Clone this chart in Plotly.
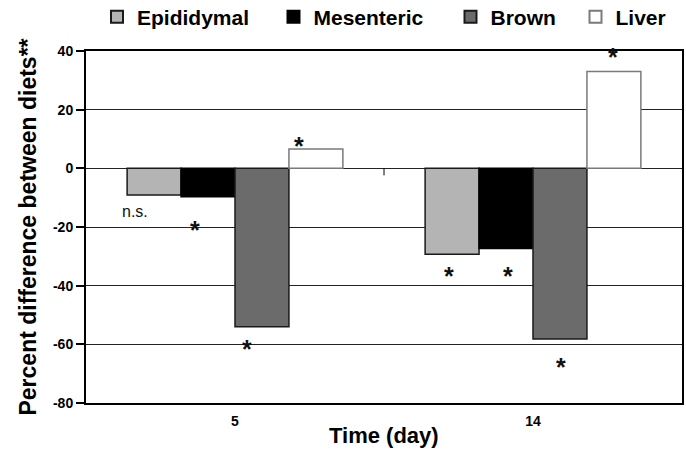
import plotly.graph_objects as go

# ---- data ----
days = ["5", "14"]
series_names = ["Epididymal", "Mesenteric", "Brown", "Liver"]
epididymal = [-9.1, -29.3]
mesenteric = [-9.7, -27.3]
brown = [-54.0, -58.2]
liver = [6.6, 33.0]
y_ticks = [-80, -60, -40, -20, 0, 20, 40]
y_tick_labels = ["-80", "-60", "-40", "-20", "0", "20", "40"]

# significance markers (x in category units, y in percent)
mark_text = ["n.s.", "*", "*", "*", "*", "*", "*", "*"]
mark_x = [-0.336, -0.134, 0.040, 0.215, 0.718, 0.916, 1.094, 1.268]
mark_y = [-14.8, -19.9, -60.7, 8.8, -35.8, -35.8, -66.8, 38.9]

# ---- styles ----
W, H = 686, 450
M_L, M_R, M_T, M_B = 86, 4, 51, 47
fills = ["#b4b4b4", "#000000", "#6b6b6b", "#ffffff"]
outlines = ["#1a1a1a", "#000000", "#1a1a1a", "#7a7a7a"]
legend_box_centers_px = [118, 294.5, 471.5, 596.5]
FONT = "Liberation Sans, Arial, sans-serif"

values = [epididymal, mesenteric, brown, liver]
x_pos = list(range(len(days)))
plot_h = H - M_T - M_B

fig = go.Figure()
legend_ids = ["legend", "legend2", "legend3", "legend4"]
for i, (name, vals) in enumerate(zip(series_names, values)):
    fig.add_trace(go.Bar(
        x=x_pos, y=vals, name=name,
        marker=dict(color=fills[i], line=dict(color=outlines[i], width=1.5)),
        legend=legend_ids[i],
    ))

for t, x, y in zip(mark_text, mark_x, mark_y):
    is_star = t == "*"
    fig.add_annotation(
        x=x, y=y, xref="x", yref="y", text=t, showarrow=False,
        font=dict(family=FONT, size=25 if is_star else 16, color="#111",
                  weight="bold" if is_star else "normal"),
        yshift=-3 if is_star else 0,
    )

# category boundary tick on the zero line
fig.add_shape(type="line", xref="x", yref="y",
              x0=(x_pos[0] + x_pos[1]) / 2, x1=(x_pos[0] + x_pos[1]) / 2,
              y0=0, y1=-2.4, line=dict(color="#000", width=1))

# x-axis title, placed at the bottom of the page
fig.add_annotation(
    text="Time (day)", xref="paper", yref="paper", x=0.5, y=-M_B / plot_h,
    xanchor="center", yanchor="bottom", showarrow=False,
    font=dict(family=FONT, size=22, weight="bold", color="#000"),
)

layout_legends = {}
for i, lid in enumerate(legend_ids):
    layout_legends[lid] = dict(
        x=(legend_box_centers_px[i] - 21) / W, xref="container", xanchor="left",
        y=1 - 17 / H, yref="container", yanchor="middle",
        orientation="h", bgcolor="rgba(0,0,0,0)", borderwidth=0,
        font=dict(family=FONT, size=21, color="#000", weight="bold"),
        itemsizing="constant",
    )

fig.update_layout(
    width=W, height=H,
    margin=dict(l=M_L, r=M_R, t=M_T, b=M_B, autoexpand=False),
    paper_bgcolor="white", plot_bgcolor="white",
    barmode="group", bargap=0.276, bargroupgap=0,
    showlegend=True,
    font=dict(family=FONT, color="#000"),
    **layout_legends,
)

fig.update_xaxes(
    range=[-0.5, 1.5], tickvals=x_pos, ticktext=days,
    showgrid=False, zeroline=False, automargin=False,
    showline=True, mirror=True, linecolor="#000", linewidth=2,
    ticks="", ticklabelstandoff=4,
    tickfont=dict(family=FONT, size=14, weight="bold"),
)
fig.update_yaxes(
    range=[-80, 40], tickvals=y_ticks, ticktext=y_tick_labels,
    showgrid=True, gridcolor="#222", gridwidth=1, zeroline=False, automargin=False,
    showline=True, mirror=True, linecolor="#000", linewidth=2,
    ticks="outside", ticklen=8, tickcolor="#000", tickwidth=1.5,
    tickfont=dict(family=FONT, size=14, weight="bold"),
    title=dict(text="Percent difference between diets**",
               font=dict(family=FONT, size=23, weight="bold"), standoff=10),
)

fig.write_html("out.html", config={"displayModeBar": False},
               post_script="document.body.style.margin='0';")
